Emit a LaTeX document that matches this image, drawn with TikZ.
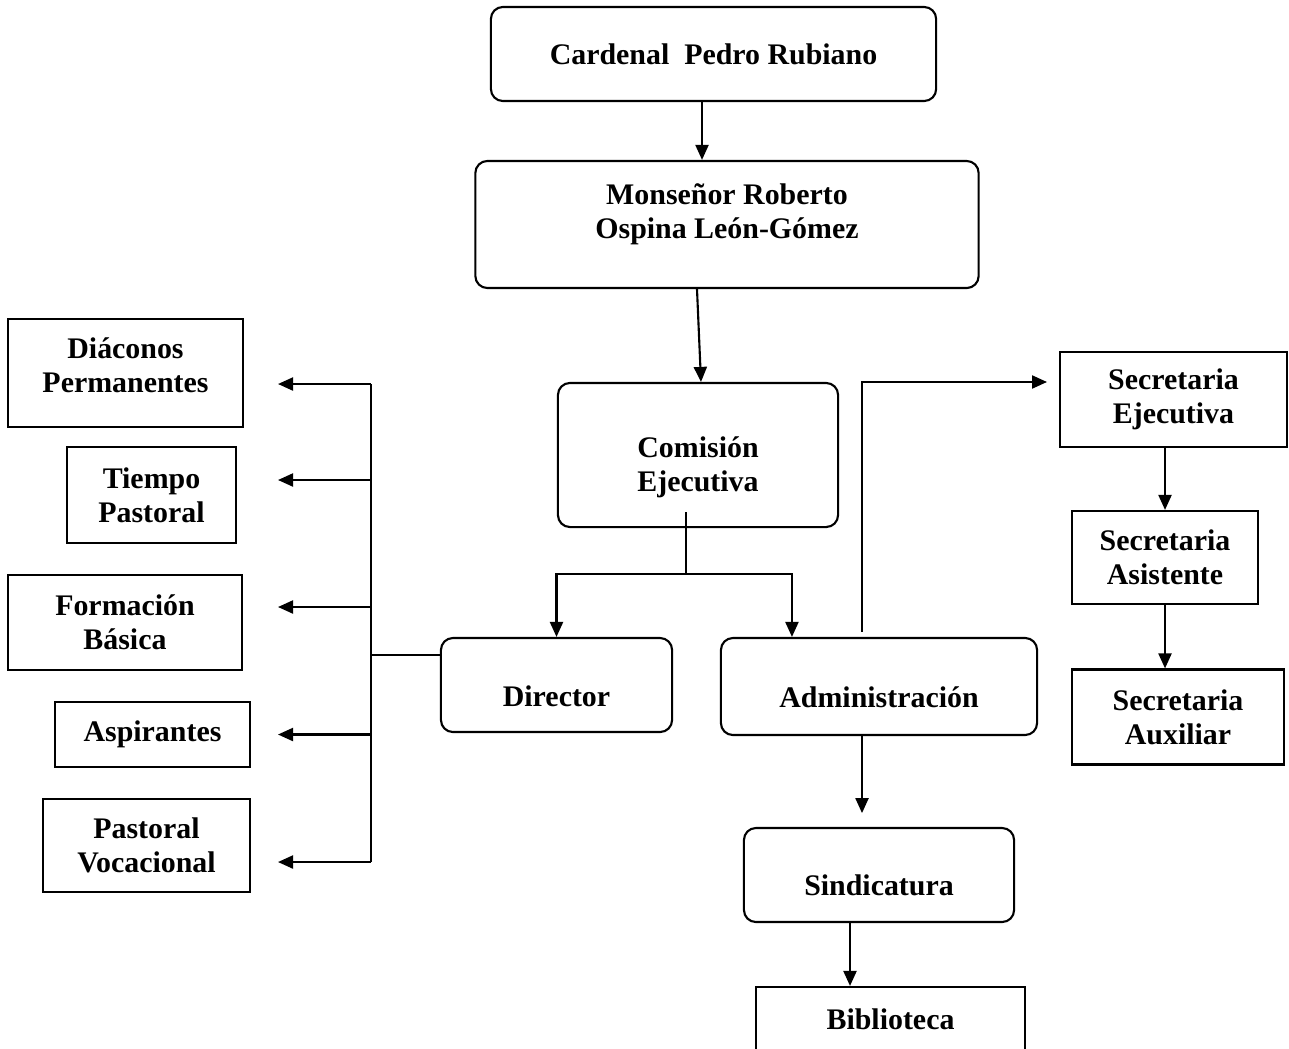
\documentclass[tikz,border=0pt]{standalone}
\usepackage{fontspec}
\setmainfont{Liberation Serif}
\usetikzlibrary{arrows.meta}

\newcommand{\orgfont}{\fontsize{8.5}{9.7}\selectfont\bfseries}

\tikzset{
    rbox/.style={draw, rounded corners=0.12cm, line width=0.6pt, inner sep=0pt, align=center, font=\orgfont},
    sbox/.style={draw, line width=0.6pt, inner sep=0pt, align=center, font=\orgfont},
    arr/.style={-{Triangle[length=0.15cm,width=0.13cm]}, line width=0.6pt},
    line/.style={line width=0.6pt}
}

\begin{document}
\begin{tikzpicture}[x=0.01cm, y=-0.01cm]
    \useasboundingbox (0,0) rectangle (1289,1048);

    % Jerarquia central
    \node[rbox, minimum width=4.45cm, minimum height=0.94cm] (card) at (713.5,54) {Cardenal~~Pedro Rubiano};
    \node[rbox, minimum width=5.03cm, minimum height=1.27cm, text height=10pt, text depth=1.9pt] (mons) at (727,224.5) {Monseñor Roberto\\Ospina León-Gómez};
    \node[rbox, minimum width=2.80cm, minimum height=1.44cm, text height=21pt, text depth=0.4pt] (comi) at (698,455) {Comisión\\Ejecutiva};
    \node[rbox, minimum width=2.31cm, minimum height=0.94cm, text height=12.4pt, text depth=0pt] (dir) at (556.5,685) {Director};
    \node[rbox, minimum width=3.16cm, minimum height=0.97cm, text height=11.8pt, text depth=0pt] (adm) at (879,686.5) {Administración};
    \node[rbox, minimum width=2.70cm, minimum height=0.94cm, text height=11.8pt, text depth=0pt] (sind) at (879,875) {Sindicatura};
    \node[sbox, minimum width=2.69cm, minimum height=0.65cm] (bibl) at (890.5,1019.5) {Biblioteca};

    % Ramas del director
    \node[sbox, minimum width=2.35cm, minimum height=1.08cm, text height=12pt, text depth=1.06pt] (diac) at (125.5,373) {Diáconos\\Permanentes};
    \node[sbox, minimum width=1.69cm, minimum height=0.96cm] (tiem) at (151.5,495) {Tiempo\\Pastoral};
    \node[sbox, minimum width=2.34cm, minimum height=0.95cm] (form) at (125,622.5) {Formación\\Básica};
    \node[sbox, minimum width=1.95cm, minimum height=0.65cm] (aspi) at (152.5,734.5) {Aspirantes};
    \node[sbox, minimum width=2.07cm, minimum height=0.93cm] (voca) at (146.5,845.5) {Pastoral\\Vocacional};

    % Secretarias
    \node[sbox, minimum width=2.27cm, minimum height=0.95cm] (sece) at (1173.5,399.5) {Secretaria\\Ejecutiva};
    \node[sbox, minimum width=1.86cm, minimum height=0.93cm] (seca) at (1165,557.5) {Secretaria\\Asistente};
    \node[sbox, minimum width=2.12cm, minimum height=0.95cm] (secx) at (1178,717) {Secretaria\\Auxiliar};

    % Puntos de apoyo
    \coordinate (topx) at (702,0);
    \coordinate (split) at (686,574);
    \coordinate (bus) at (371,0);
    \coordinate (tipx) at (278,0);
    \coordinate (riser) at (862,0);
    \coordinate (tipr) at (1047,0);
    \coordinate (libx) at (850,0);

    % Conectores
    \draw[arr] (card.south -| topx) -- (mons.north -| topx);
    \draw[arr] ([xshift=-0.3cm]mons.south) -- ([xshift=0.03cm]comi.north);
    \draw[line] (split |- comi.south) ++(0,-16) -- (split);
    \draw[arr] (split) -| (dir.north);
    \draw[arr] (split) -| ([xshift=-0.87cm]adm.north);

    \draw[line] ([yshift=0.3cm]dir.west) -- ([yshift=0.3cm]dir.west -| bus);
    \draw[line] ([yshift=-0.11cm]diac.east -| bus) -- ([yshift=-0.165cm]voca.east -| bus);
    \foreach \b/\s in {diac/-0.11, tiem/0.15, form/0.155, aspi/0, voca/-0.165}
        \draw[arr] ([yshift=\s cm]\b.east -| bus) -- ([yshift=\s cm]\b.east -| tipx);

    \draw[arr] (adm.north -| riser) ++(0,-5) |- ([yshift=0.175cm]sece.west -| tipr);
    \draw[arr] (sece.south -| seca.north) -- (seca.north);
    \draw[arr] (seca.south) -- (seca.south |- secx.north);

    \draw[arr] (adm.south -| riser) -- ++(0,77);
    \draw[arr] (sind.south -| libx) -- (bibl.north -| libx);
\end{tikzpicture}
\end{document}
